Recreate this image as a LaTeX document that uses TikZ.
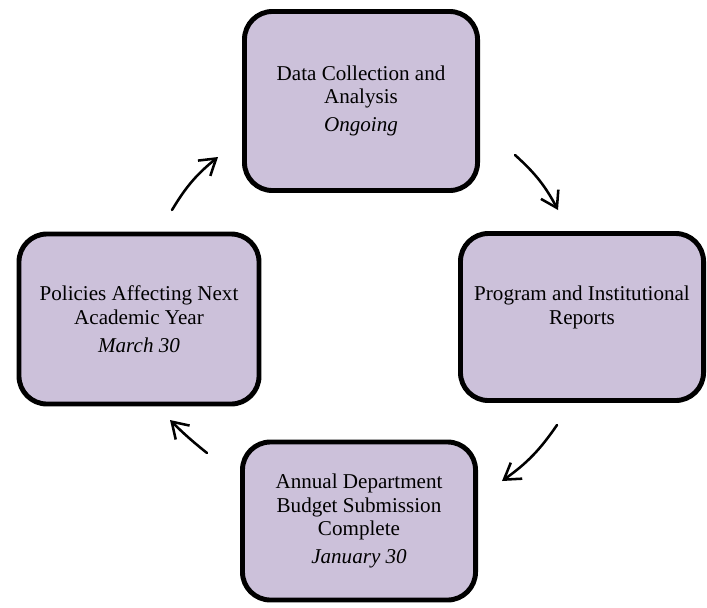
\documentclass[tikz,border=0pt]{standalone}
\usepackage{fontspec}
\setmainfont{Liberation Serif}
\usetikzlibrary{arrows.meta, positioning, shapes}
\definecolor{boxfill}{RGB}{204,193,218}

\begin{document}
\begin{tikzpicture}[x=0.025cm, y=-0.025cm,
    box/.style={draw=black, line width=3.5pt, rounded corners=0.7cm, fill=boxfill,
        align=center, inner sep=0pt, font=\fontsize{15}{16.8}\selectfont},
    cyc/.style={-{Straight Barb[length=11pt, width=14pt]}, line width=1.8pt, line cap=round}]
    \useasboundingbox (0,0) rectangle (707,607);

    % the four stages of the cycle
    \node[box, minimum width=5.825cm, minimum height=4.475cm] (data) at (361,101)
        {Data Collection and\\Analysis\\[3pt]\textit{Ongoing}};
    \node[box, minimum width=6.075cm, minimum height=4.175cm] (reports) at (582,317)
        {Program and Institutional\\Reports\\ \mbox{}};
    \node[box, minimum width=5.825cm, minimum height=3.95cm] (budget) at (359,521)
        {Annual Department\\Budget Submission\\Complete\\[3pt]\textit{January 30}};
    \node[box, minimum width=6.0cm, minimum height=4.25cm] (policies) at (139,319)
        {Policies Affecting Next\\Academic Year\\[3pt]\textit{March 30}};

    % free ends of the curved arrows between the stages
    \coordinate (c1s) at (172,210);
    \coordinate (c1e) at (218,157);
    \coordinate (c2s) at (515,155);
    \coordinate (c2e) at (558,210);
    \coordinate (c3s) at (557,425);
    \coordinate (c3e) at (502,481);
    \coordinate (c4s) at (207,453);
    \coordinate (c4e) at (170,420);

    % clockwise arrows
    \draw[cyc, bend left=10] (c1s) to (c1e);
    \draw[cyc, bend left=10] (c2s) to (c2e);
    \draw[cyc, bend left=10] (c3s) to (c3e);
    \draw[cyc, bend left=3] (c4s) to (c4e);
\end{tikzpicture}
\end{document}
